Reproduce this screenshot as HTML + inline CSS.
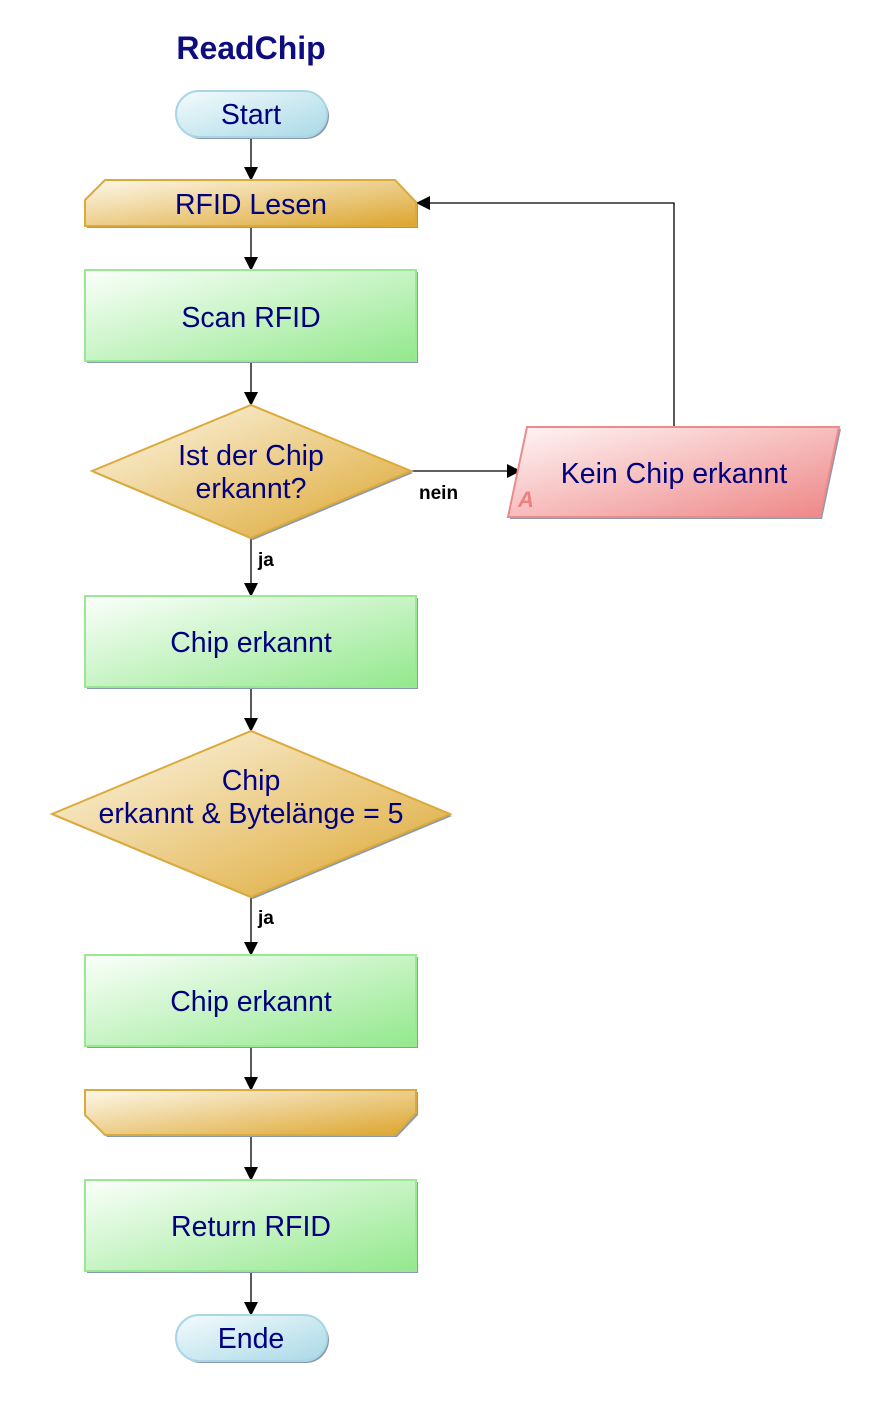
<!DOCTYPE html>
<html><head><meta charset="utf-8"><style>
html,body{margin:0;padding:0;background:#fff}
svg{display:block}
text{font-family:"Liberation Sans",Arial,sans-serif;fill:#00007f}
</style></head><body>
<svg width="891" height="1404" viewBox="0 0 891 1404" xmlns="http://www.w3.org/2000/svg">
<defs>
<linearGradient id="gB" x1="0" y1="0" x2="1" y2="1"><stop offset="0" stop-color="#f4fbfd"/><stop offset="1" stop-color="#a9d9e6"/></linearGradient>
<linearGradient id="gG" x1="0" y1="0" x2="1" y2="1"><stop offset="0" stop-color="#fbfffb"/><stop offset="1" stop-color="#93e88d"/></linearGradient>
<linearGradient id="gO" x1="0" y1="0" x2="1" y2="1"><stop offset="0" stop-color="#fdf8ea"/><stop offset="1" stop-color="#dca52d"/></linearGradient>
<linearGradient id="gR" x1="0" y1="0" x2="1" y2="1"><stop offset="0" stop-color="#fff6f6"/><stop offset="1" stop-color="#ee8585"/></linearGradient>
<marker id="ar" markerWidth="14" markerHeight="14" refX="13" refY="7" orient="auto" markerUnits="userSpaceOnUse"><path d="M0,0 L14,7 L0,14 Z" fill="#000"/></marker>
</defs>
<text x="251" y="59" text-anchor="middle" font-size="32" font-weight="bold" fill="#0d0d80" style="fill:#0d0d80">ReadChip</text>

<g stroke="#000" stroke-width="1.3" fill="none" marker-end="url(#ar)">
<line x1="251" y1="137" x2="251" y2="180"/>
<line x1="251" y1="227" x2="251" y2="270"/>
<line x1="251" y1="362" x2="251" y2="405"/>
<line x1="251" y1="538" x2="251" y2="596"/>
<line x1="251" y1="688" x2="251" y2="731"/>
<line x1="251" y1="897" x2="251" y2="955"/>
<line x1="251" y1="1047" x2="251" y2="1090"/>
<line x1="251" y1="1136" x2="251" y2="1180"/>
<line x1="251" y1="1272" x2="251" y2="1315"/>
<line x1="411" y1="471" x2="520" y2="471"/>
<polyline points="674,427 674,203 417,203"/>
</g>

<g fill="#8a9aab">
<rect x="178" y="93" width="151" height="46" rx="23"/>
<polygon points="87,202 107,182 397,182 418,204 418,228 87,228"/>
<rect x="87" y="272" width="331" height="91"/>
<polygon points="94,473 253,407 413,473 253,540"/>
<polygon points="529,429 841,429 822,519 510,519"/>
<rect x="87" y="598" width="331" height="91"/>
<polygon points="54,816 253,733 452,816 253,899"/>
<rect x="87" y="957" width="331" height="91"/>
<polygon points="87,1092 418,1092 418,1115 397,1137 107,1137 87,1117"/>
<rect x="87" y="1182" width="331" height="91"/>
<rect x="178" y="1317" width="151" height="46" rx="23"/>
</g>

<rect x="176" y="91" width="151" height="46" rx="23" fill="url(#gB)" stroke="#a9d6e4" stroke-width="2"/>
<polygon points="85,200 105,180 395,180 416,202 416,226 85,226" fill="url(#gO)" stroke="#dcaa3a" stroke-width="2"/>
<rect x="85" y="270" width="331" height="91" fill="url(#gG)" stroke="#98e894" stroke-width="2"/>
<polygon points="92,471 251,405 411,471 251,538" fill="url(#gO)" stroke="#dcaa3a" stroke-width="2"/>
<polygon points="527,427 839,427 820,517 508,517" fill="url(#gR)" stroke="#ee8a8a" stroke-width="2"/>
<rect x="85" y="596" width="331" height="91" fill="url(#gG)" stroke="#98e894" stroke-width="2"/>
<polygon points="52,814 251,731 450,814 251,897" fill="url(#gO)" stroke="#dcaa3a" stroke-width="2"/>
<rect x="85" y="955" width="331" height="91" fill="url(#gG)" stroke="#98e894" stroke-width="2"/>
<polygon points="85,1090 416,1090 416,1113 395,1135 105,1135 85,1115" fill="url(#gO)" stroke="#dcaa3a" stroke-width="2"/>
<rect x="85" y="1180" width="331" height="91" fill="url(#gG)" stroke="#98e894" stroke-width="2"/>
<rect x="176" y="1315" width="151" height="46" rx="23" fill="url(#gB)" stroke="#a9d6e4" stroke-width="2"/>

<g font-size="28.5" text-anchor="middle">
<text x="251" y="124">Start</text>
<text x="251" y="214">RFID Lesen</text>
<text x="251" y="327">Scan RFID</text>
<text x="251" y="465">Ist der Chip</text>
<text x="251" y="498">erkannt?</text>
<text x="674" y="483">Kein Chip erkannt</text>
<text x="251" y="652">Chip erkannt</text>
<text x="251" y="790">Chip</text>
<text x="251" y="823">erkannt &amp; Bytelänge = 5</text>
<text x="251" y="1011">Chip erkannt</text>
<text x="251" y="1236">Return RFID</text>
<text x="251" y="1348">Ende</text>
</g>
<text x="518" y="507" font-size="22" font-weight="bold" font-style="italic" style="fill:#ee8080">A</text>
<g font-size="19" font-weight="bold">
<text x="419" y="499" style="fill:#000">nein</text>
<text x="258" y="566" style="fill:#000">ja</text>
<text x="258" y="924" style="fill:#000">ja</text>
</g>
</svg>
</body></html>
